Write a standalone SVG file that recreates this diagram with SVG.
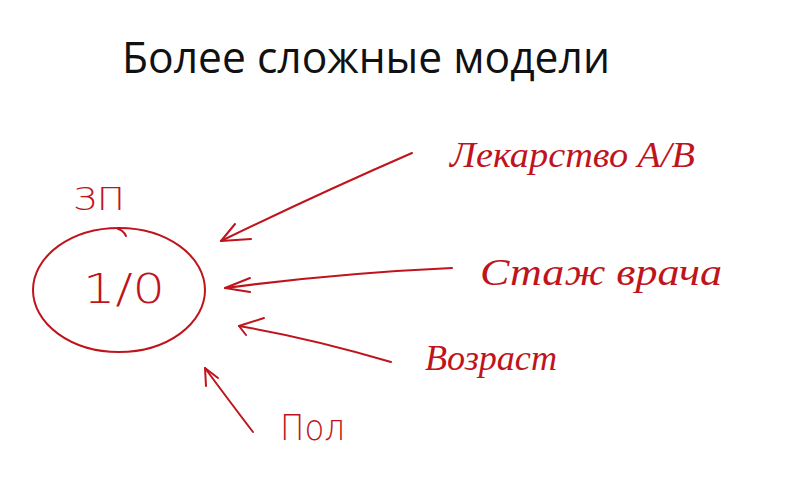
<svg xmlns="http://www.w3.org/2000/svg" width="787" height="494" viewBox="0 0 787 494">
  <style>
    .title { font-family: "Open Sans", "Liberation Sans", sans-serif; font-size: 44px; fill: #111111; }
    .hand { font-family: "Liberation Serif", "DejaVu Serif", serif; font-style: italic; fill: #c0141c; }
    .print { font-family: "DejaVu Sans", "Liberation Sans", sans-serif; font-weight: 200; fill: #c0141c; }
    .ink { fill: none; stroke: #c0141c; stroke-width: 2; stroke-linecap: round; stroke-linejoin: round; }
  </style>
  <rect width="787" height="494" fill="#ffffff"/>

  <text class="title" x="122" y="73" textLength="488" lengthAdjust="spacingAndGlyphs">Более сложные модели</text>

  <!-- target variable: salary, binary outcome -->
  <g id="node-target">
    <text class="print" x="73" y="210" font-size="32" textLength="52" lengthAdjust="spacingAndGlyphs">ЗП</text>
    <ellipse class="ink" cx="119" cy="290" rx="86" ry="62"/>
    <path class="ink" d="M118 229 Q123 230 126 236"/>
    <text class="print" x="83" y="303" font-size="40" textLength="82" lengthAdjust="spacingAndGlyphs">1/0</text>
  </g>

  <!-- factors -->
  <g id="node-drug">
    <text class="hand" x="450" y="167" font-size="36" textLength="245" lengthAdjust="spacingAndGlyphs">Лекарство A/B</text>
  </g>
  <g id="node-experience">
    <text class="hand" x="480" y="285" font-size="38" textLength="242" lengthAdjust="spacingAndGlyphs">Стаж врача</text>
  </g>
  <g id="node-age">
    <text class="hand" x="425" y="370" font-size="36" textLength="132" lengthAdjust="spacingAndGlyphs">Возраст</text>
  </g>
  <g id="node-sex">
    <text class="print" x="280" y="440" font-size="36" textLength="65" lengthAdjust="spacingAndGlyphs">Пол</text>
  </g>

  <!-- arrows from each factor to the outcome -->
  <g id="connectors">
    <path class="ink" d="M412 153 Q320 193 221 241"/>
    <path class="ink" d="M235 224 L221 241 L251 239"/>
    <path class="ink" d="M452 268 Q340 273 225 288"/>
    <path class="ink" d="M250 278 L225 288 L250 292"/>
    <path class="ink" d="M391 362 Q310 338 239 326"/>
    <path class="ink" d="M264 318 L239 326 L246 335"/>
    <path class="ink" d="M253 432 Q230 402 205 368"/>
    <path class="ink" d="M206 386 L205 368 L218 378"/>
  </g>
</svg>
